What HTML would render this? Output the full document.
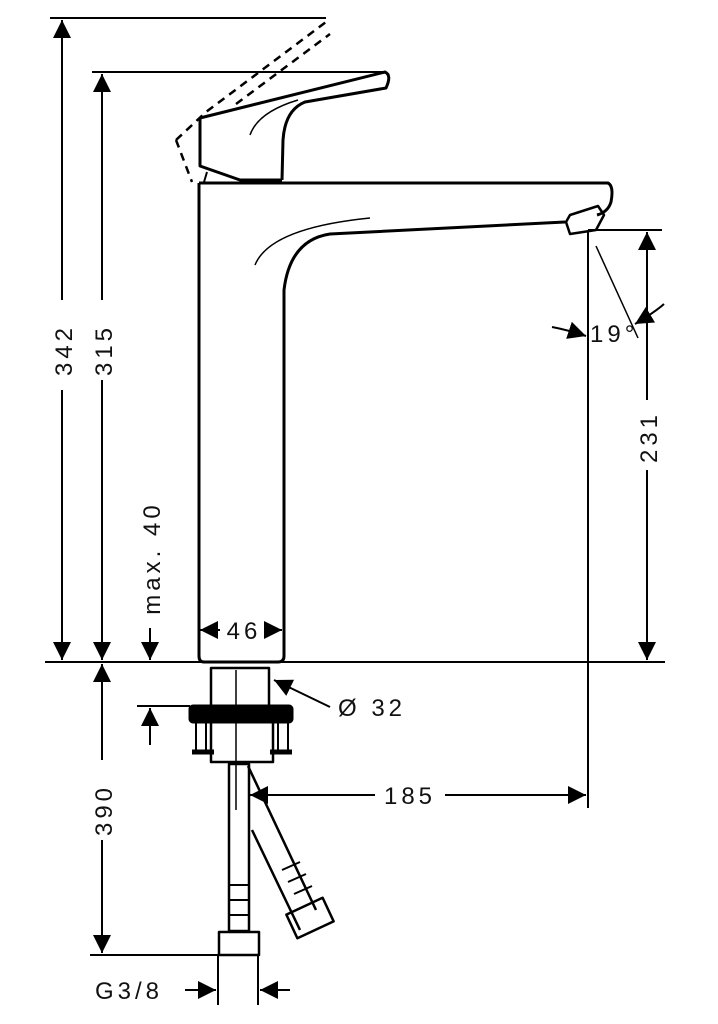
<!DOCTYPE html>
<html><head><meta charset="utf-8"><style>
html,body{margin:0;padding:0;background:#fff}
svg{display:block}
text{font-family:"Liberation Sans",sans-serif;font-size:24px;fill:#111;letter-spacing:4px}
</style></head><body>
<svg width="718" height="1024" viewBox="0 0 718 1024" xmlns="http://www.w3.org/2000/svg">
<defs>
<marker id="a" viewBox="0 0 10 10" refX="10" refY="5" markerWidth="18" markerHeight="18" markerUnits="userSpaceOnUse" orient="auto"><path d="M0,0L10,5L0,10z" fill="#000"/></marker>
</defs>
<g stroke="#000" fill="none" stroke-width="2">
<line x1="50" y1="18" x2="326" y2="18"/>
<line x1="92" y1="72" x2="385" y2="72"/>
<line x1="45" y1="662" x2="665" y2="662"/>
<line x1="588" y1="230" x2="662" y2="230"/>
<line x1="588" y1="232" x2="588" y2="808"/>
<line x1="90" y1="955" x2="218" y2="955"/>
<line x1="218" y1="955" x2="218" y2="1005"/>
<line x1="258" y1="955" x2="258" y2="1005"/>
<line x1="137" y1="706" x2="190" y2="706"/>
<line x1="62" y1="390" x2="62" y2="660" marker-end="url(#a)"/>
<line x1="62" y1="300" x2="62" y2="20" marker-end="url(#a)"/>
<line x1="102" y1="300" x2="102" y2="74" marker-end="url(#a)"/>
<line x1="102" y1="380" x2="102" y2="660" marker-end="url(#a)"/>
<line x1="150" y1="628" x2="150" y2="660" marker-end="url(#a)"/>
<line x1="150" y1="745" x2="150" y2="708" marker-end="url(#a)"/>
<line x1="102" y1="760" x2="102" y2="664" marker-end="url(#a)"/>
<line x1="102" y1="840" x2="102" y2="953" marker-end="url(#a)"/>
<line x1="647" y1="400" x2="647" y2="232" marker-end="url(#a)"/>
<line x1="647" y1="470" x2="647" y2="660" marker-end="url(#a)"/>
<line x1="220" y1="630" x2="200" y2="630" marker-end="url(#a)"/>
<line x1="264" y1="630" x2="282" y2="630" marker-end="url(#a)"/>
<line x1="375" y1="795" x2="250" y2="795" marker-end="url(#a)"/>
<line x1="445" y1="795" x2="586" y2="795" marker-end="url(#a)"/>
<line x1="185" y1="990" x2="216" y2="990" marker-end="url(#a)"/>
<line x1="290" y1="990" x2="260" y2="990" marker-end="url(#a)"/>
<line x1="330" y1="707" x2="274" y2="680" marker-end="url(#a)"/>
<line x1="596" y1="246" x2="638" y2="338" stroke-width="1.5"/>
<path d="M552,327 Q568,330 586,336" marker-end="url(#a)"/>
<path d="M664,304 Q655,312 635,324" marker-end="url(#a)"/>
<line x1="236" y1="670" x2="236" y2="810" stroke-width="1.5"/>
</g>
<g stroke="#000" fill="none" stroke-width="3" stroke-linejoin="round">
<path d="M199,183 L608,183 Q614,186 611,202 Q608,212 597,215"/>
<path d="M565,222 L330,234 Q290,240 284,290 L284,656 Q284,662 278,662 L204,662 Q199,662 199,656 L199,183" />
<path d="M255,265 Q270,228 370,218" stroke-width="1.5"/>
<path d="M566,222 L570,215 L598,206 L604,215 L596,230 L570,234 Z" stroke-width="2.5"/>
<path d="M200,118 L385,72 Q392,75 386,88 L305,102 Q285,110 283,140 L282,180"/>
<path d="M200,118 L200,166 L240,180 L282,180"/>
<path d="M204,182 L207,172" stroke-width="2"/>
<path d="M250,135 Q258,112 298,100" stroke-width="1.5"/>
<path d="M176,140 L206,112 L326,22 M236,104 L330,34 M176,140 L192,182" stroke-dasharray="8,6" stroke-width="2.5"/>
<rect x="211" y="668" width="58" height="38" stroke-width="2.5"/>
<rect x="190" y="706" width="102" height="16" fill="#000" rx="3"/>
<path d="M196,722 L196,752 M288,722 L288,752 M206,722 L206,752 M278,722 L278,752" stroke-width="2"/>
<rect x="211" y="722" width="62" height="40" stroke-width="2.5"/>
<path d="M192,752 h22 M270,752 h22" stroke-width="5"/>
<rect x="229" y="764" width="20" height="167" stroke-width="2.5"/>
<rect x="219" y="932" width="40" height="23" stroke-width="2.5"/>
<path d="M230,885 h20 M230,900 h20 M230,915 h20" stroke-width="2"/>
<path d="M248,766 L316,910 M252,830 L300,930" stroke-width="2.5"/>
<rect x="290" y="905" width="40" height="26" transform="rotate(-25 310 918)" stroke-width="2.5"/>
<path d="M282,870 L300,862 M288,882 L306,874 M294,894 L312,886" stroke-width="2"/>
</g>
<text transform="translate(72,350) rotate(-90)" text-anchor="middle">342</text>
<text transform="translate(112,350) rotate(-90)" text-anchor="middle">315</text>
<text transform="translate(112,810) rotate(-90)" text-anchor="middle">390</text>
<text transform="translate(160,558) rotate(-90)" text-anchor="middle" font-size="21">max. 40</text>
<text transform="translate(657,437) rotate(-90)" text-anchor="middle">231</text>
<text x="244" y="639" text-anchor="middle">46</text>
<text x="338" y="716">Ø 32</text>
<text x="410" y="804" text-anchor="middle">185</text>
<text x="95" y="999">G3/8</text>
<text x="590" y="342" letter-spacing="1">19°</text>
</svg>
</body></html>
